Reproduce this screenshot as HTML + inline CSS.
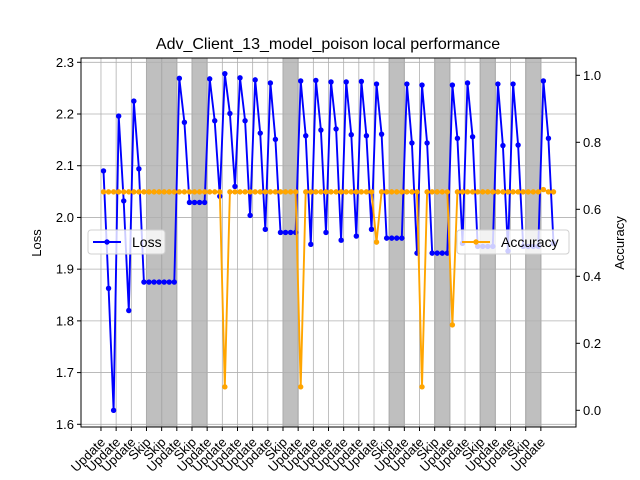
<!DOCTYPE html>
<html><head><meta charset="utf-8"><style>body{margin:0;background:#fff}svg{display:block;font-family:"Liberation Sans",sans-serif}</style></head>
<body>
<svg id="chart" width="640" height="480" xmlns="http://www.w3.org/2000/svg"></svg>
<script>
const roundLabels=["Update","Update","Update","Skip","Skip","Update","Skip","Update","Update","Update","Update","Update","Skip","Update","Update","Update","Update","Update","Update","Skip","Update","Update","Skip","Update","Update","Skip","Update","Update","Skip","Update"];
const lossValues=[2.09,1.863,1.627,2.196,2.032,1.82,2.225,2.094,1.875,1.875,1.875,1.875,1.875,1.875,1.875,2.269,2.184,2.029,2.029,2.029,2.029,2.268,2.187,2.041,2.278,2.201,2.06,2.27,2.187,2.004,2.266,2.163,1.977,2.26,2.151,1.971,1.971,1.971,1.971,2.264,2.158,1.948,2.265,2.169,1.971,2.262,2.171,1.956,2.262,2.16,1.964,2.263,2.158,1.977,2.258,2.161,1.96,1.96,1.96,1.96,2.258,2.144,1.931,2.256,2.144,1.931,1.931,1.931,1.931,2.256,2.153,1.95,2.26,2.156,1.944,1.944,1.944,1.944,2.258,2.139,1.935,2.258,2.14,1.944,1.944,1.944,1.944,2.264,2.153,1.95];
const accValues=[0.652,0.652,0.652,0.652,0.652,0.652,0.652,0.652,0.652,0.652,0.652,0.652,0.652,0.652,0.652,0.652,0.652,0.652,0.652,0.652,0.652,0.652,0.652,0.652,0.07,0.652,0.652,0.652,0.652,0.652,0.652,0.652,0.652,0.652,0.652,0.652,0.652,0.652,0.652,0.07,0.652,0.652,0.652,0.652,0.652,0.652,0.652,0.652,0.652,0.652,0.652,0.652,0.652,0.652,0.502,0.652,0.652,0.652,0.652,0.652,0.652,0.652,0.652,0.07,0.652,0.652,0.652,0.652,0.652,0.255,0.652,0.652,0.652,0.652,0.652,0.652,0.652,0.652,0.652,0.652,0.652,0.652,0.652,0.652,0.652,0.652,0.652,0.659,0.652,0.652];
const lossTicks=[1.6,1.7,1.8,1.9,2.0,2.1,2.2,2.3];
const accTicks=[0.0,0.2,0.4,0.6,0.8,1.0];

const svg=document.getElementById('chart');
const NS='http://www.w3.org/2000/svg';
const L=81,R=576,T=58,B=427;
const n=lossValues.length;
const xMin=-0.05*(n-1), xMax=(n-1)*1.05;
const X=v=>L+(v-xMin)/(xMax-xMin)*(R-L);
const YL=v=>424.3-(v-1.6)/0.7*362;
const YA=v=>410.3-v*335;
function mk(tag,attrs,parent){const e=document.createElementNS(NS,tag);for(const k in attrs)e.setAttribute(k,attrs[k]);(parent||svg).appendChild(e);return e;}

let t=mk('text',{x:328,y:49,'text-anchor':'middle','font-size':16,fill:'#000'});t.textContent='Adv_Client_13_model_poison local performance';



roundLabels.forEach((lab,r)=>{ if(lab==='Skip'){
  const b=mk('rect',{x:X(3*r-0.5),y:T,width:X(3*r+2.5)-X(3*r-0.5),height:B-T,fill:'#bfbfbf',stroke:'#9a9a9a','stroke-width':1});
  
  
}});
roundLabels.forEach((lab,r)=>{const x=X(3*r-0.5);
  const g=mk('line',{x1:x,x2:x,y1:T,y2:B,stroke:'#b0b0b0','stroke-width':0.8});
  
  
});
lossTicks.forEach(v=>{const y=YL(v);
  const g=mk('line',{x1:L,x2:R,y1:y,y2:y,stroke:'#b0b0b0','stroke-width':0.8});
  
  
});
function series(vals,Y,color,name){
  const pts=vals.map((v,i)=>X(i).toFixed(1)+','+Y(v).toFixed(1)).join(' ');
  const pl=mk('polyline',{points:pts,fill:'none',stroke:color,'stroke-width':1.9});
  
  
  vals.forEach((v,i)=>{const c=mk('circle',{cx:X(i),cy:Y(v),r:2.7,fill:color});
    
    });
}
series(lossValues,YL,'#0000ff','loss');
series(accValues,YA,'#ffa500','accuracy');
const fr=mk('rect',{x:L,y:T,width:R-L,height:B-T,fill:'none',stroke:'#000','stroke-width':1});


lossTicks.forEach(v=>{const y=YL(v);
  mk('line',{x1:L-4,x2:L,y1:y,y2:y,stroke:'#000'});
  const tx=mk('text',{x:L-7,y:y+4.5,'text-anchor':'end','font-size':13});tx.textContent=v.toFixed(1);
  
  
});
accTicks.forEach(v=>{const y=YA(v);
  mk('line',{x1:R,x2:R+4,y1:y,y2:y,stroke:'#000'});
  const tx=mk('text',{x:R+7,y:y+4.5,'font-size':13});tx.textContent=v.toFixed(1);
  
  
});
roundLabels.forEach((lab,r)=>{const x=X(3*r-0.5);
  mk('line',{x1:x,x2:x,y1:B,y2:B+4,stroke:'#000'});
  const ax=x+5, ay=B+16;
  const tx=mk('text',{x:ax,y:ay,'text-anchor':'end','font-size':13,transform:`rotate(-45 ${ax} ${ay})`});tx.textContent=lab;
  
  
});
let yl=mk('text',{x:41,y:243,'text-anchor':'middle','font-size':13,transform:'rotate(-90 41 243)'});yl.textContent='Loss';


let yr=mk('text',{x:624,y:243,'text-anchor':'middle','font-size':13,transform:'rotate(-90 624 243)'});yr.textContent='Accuracy';


function legend(x,w,color,label,name){
  const g=mk('g',{});
  
  
  mk('rect',{x:x,y:230,width:w,height:24,rx:3,fill:'#fff','fill-opacity':0.8,stroke:'#d0d0d0'},g);
  mk('line',{x1:x+5,x2:x+33,y1:242,y2:242,stroke:color,'stroke-width':1.9},g);
  mk('circle',{cx:x+19,cy:242,r:2.7,fill:color},g);
  const tx=mk('text',{x:x+44,y:247,'font-size':14},g);tx.textContent=label;
}
legend(88,77,'#0000ff','Loss','loss-legend');
legend(457,112,'#ffa500','Accuracy','accuracy-legend');
</script>
</body></html>
